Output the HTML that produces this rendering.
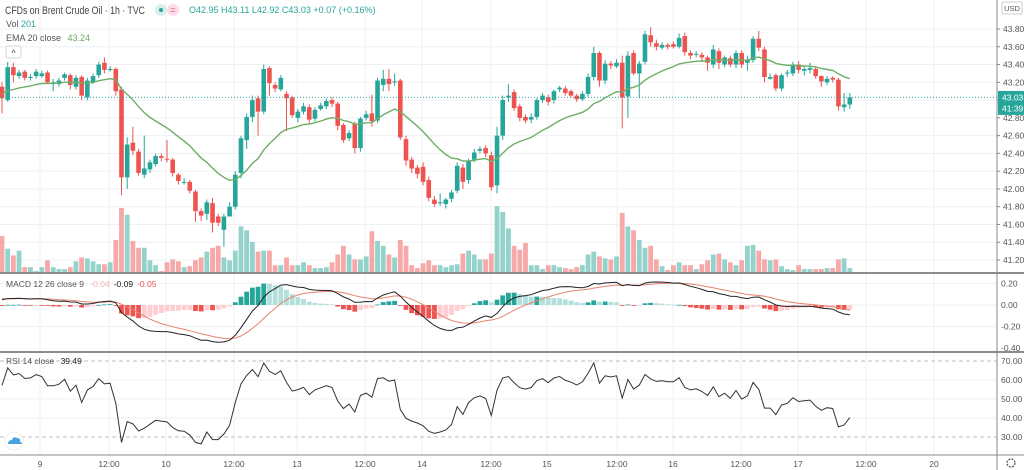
<!DOCTYPE html>
<html><head><meta charset="utf-8"><title>Brent Crude Oil 1h</title>
<style>
html,body{margin:0;padding:0;background:#fff;width:1024px;height:470px;overflow:hidden;font-family:"Liberation Sans",sans-serif}
svg{display:block}
text{font-family:"Liberation Sans",sans-serif}
</style></head>
<body>
<svg id="chart" width="1024" height="470" viewBox="0 0 1024 470" xmlns="http://www.w3.org/2000/svg">
  <rect x="0" y="0" width="1024" height="470" fill="#ffffff"/>
  <g id="grid"></g>
  <g id="vol"></g>
  <g id="candles"></g>
  <g id="ema"></g>
  <g id="macd"></g>
  <g id="rsi"></g>
  <g id="axes"></g>
  <g id="legend">
    <text x="5" y="14" font-size="11" fill="#444" textLength="140" lengthAdjust="spacingAndGlyphs">CFDs on Brent Crude Oil · 1h · TVC</text>
    <circle cx="161" cy="10" r="6" fill="#d8f0ec"/>
    <circle cx="161" cy="10" r="2" fill="#26a69a"/>
    <rect x="167" y="4" width="12" height="12" rx="6" fill="#fbdde6"/>
    <text x="173" y="13" font-size="9" fill="#e04070" text-anchor="middle">=</text>
    <text x="189" y="13" font-size="9" fill="#26a69a">O42.95  H43.11  L42.92  C43.03  +0.07 (+0.16%)</text>
    <text x="6" y="27" font-size="9" fill="#555">Vol <tspan fill="#26a69a">201</tspan></text>
    <text x="6" y="41" font-size="9" fill="#555">EMA 20 close <tspan fill="#6ca964" dx="4">43.24</tspan></text>
    <rect x="6" y="46" width="15" height="12" rx="2" fill="#fff" stroke="#d6d6d6"/>
    <text x="13.5" y="56" font-size="9" fill="#444" text-anchor="middle">^</text>
    <text x="6" y="287" font-size="8.5" fill="#555">MACD 12 26 close 9 <tspan fill="#f8b4bc" dx="4">-0.04</tspan><tspan fill="#222" dx="4">-0.09</tspan><tspan fill="#ef5350" dx="4">-0.05</tspan></text>
    <text x="6" y="364" font-size="8.5" fill="#555">RSI 14 close <tspan fill="#222" dx="4">39.49</tspan></text>
    <circle cx="14" cy="441" r="9" fill="#fff" stroke="#eee"/>
    <path d="M8 444 q0 -4 4 -4 q1 -4 5 -2 q4 0 3 4 q2 0 2 2 z" fill="#4aa3df"/>
  </g>
</svg>
<script>
const opens=[43.15,43.00,43.37,43.27,43.32,43.25,43.27,43.27,43.31,43.18,43.18,43.25,43.28,43.15,43.26,43.03,43.20,43.28,43.42,43.34,43.35,43.12,42.13,42.52,42.42,42.16,42.22,42.28,42.37,42.34,42.33,42.16,42.08,42.08,41.97,41.75,41.72,41.84,41.69,41.54,41.69,41.80,42.18,42.55,42.81,43.02,42.87,43.36,43.17,43.12,43.07,43.03,42.80,42.87,42.92,42.79,42.90,42.93,43.00,42.96,42.72,42.57,42.73,42.46,42.80,42.85,42.77,43.17,43.24,43.20,43.22,42.56,42.33,42.24,42.25,42.10,41.88,41.85,41.83,41.89,41.98,42.24,42.10,42.33,42.43,42.46,42.38,42.04,42.60,43.03,43.09,42.93,42.81,42.78,42.81,43.00,43.03,43.00,43.12,43.13,43.10,43.05,43.01,43.07,43.26,43.53,43.22,43.41,43.38,43.42,43.04,43.53,43.30,43.43,43.73,43.64,43.59,43.62,43.63,43.60,43.72,43.53,43.52,43.51,43.48,43.40,43.55,43.40,43.47,43.40,43.53,43.42,43.45,43.69,43.57,43.24,43.28,43.13,43.30,43.30,43.40,43.33,43.34,43.35,43.27,43.20,43.25,43.23,42.92,42.95];
const highs=[43.20,43.43,43.42,43.34,43.34,43.29,43.35,43.33,43.33,43.24,43.25,43.31,43.30,43.28,43.28,43.25,43.30,43.43,43.48,43.38,43.37,43.15,42.58,42.70,42.45,42.60,42.33,42.40,42.40,42.55,42.35,42.18,42.12,42.10,41.99,41.78,41.88,41.90,41.72,41.72,41.85,42.20,42.60,42.85,43.05,43.05,43.40,43.38,43.20,43.28,43.10,43.05,42.90,42.97,42.95,42.92,42.97,43.02,43.03,42.98,42.74,42.66,42.76,42.81,42.88,43.06,43.25,43.34,43.35,43.30,43.24,42.60,42.36,42.27,42.30,42.14,41.92,41.95,41.90,41.99,42.30,42.28,42.34,42.45,42.48,42.49,42.42,42.70,43.05,43.18,43.12,42.96,42.84,42.85,43.02,43.08,43.06,43.12,43.16,43.16,43.12,43.07,43.10,43.30,43.60,43.55,43.45,43.44,43.46,43.50,43.55,43.56,43.44,43.78,43.82,43.68,43.65,43.64,43.66,43.75,43.76,43.56,43.55,43.54,43.50,43.62,43.58,43.50,43.50,43.56,43.56,43.50,43.72,43.78,43.60,43.30,43.30,43.30,43.34,43.43,43.44,43.38,43.42,43.38,43.28,43.27,43.27,43.25,43.08,43.08];
const lows=[42.85,42.98,43.20,43.24,43.22,43.22,43.24,43.25,43.18,43.10,43.15,43.22,43.12,43.12,43.00,43.00,43.18,43.25,43.30,43.32,43.05,41.93,42.00,42.38,42.15,42.12,42.18,42.25,42.31,42.30,42.14,42.05,42.05,41.95,41.63,41.64,41.65,41.51,41.58,41.35,41.75,41.77,42.12,42.45,42.75,42.60,42.84,43.05,43.09,43.10,42.65,42.80,42.75,42.84,42.74,42.76,42.88,42.90,42.92,42.66,42.52,42.54,42.40,42.42,42.77,42.70,42.74,43.10,43.10,43.16,42.55,42.26,42.18,42.12,42.04,41.86,41.80,41.81,41.78,41.85,41.95,42.00,42.06,42.30,42.40,42.36,41.98,41.95,42.55,42.98,42.88,42.76,42.74,42.74,42.78,42.97,42.94,42.96,43.09,43.05,43.03,42.98,42.99,43.04,43.22,43.15,43.18,43.35,43.36,42.68,42.80,43.28,43.02,43.40,43.60,43.56,43.57,43.57,43.58,43.58,43.50,43.46,43.48,43.43,43.33,43.36,43.35,43.37,43.37,43.36,43.36,43.33,43.42,43.55,43.20,43.23,43.10,43.10,43.26,43.27,43.30,43.28,43.30,43.24,43.15,43.17,43.20,42.88,42.87,42.90];
const closes=[43.02,43.37,43.28,43.31,43.25,43.26,43.32,43.30,43.20,43.20,43.22,43.29,43.17,43.25,43.05,43.22,43.27,43.40,43.34,43.35,43.10,42.13,42.50,42.43,42.18,42.23,42.30,42.37,42.35,42.33,42.18,42.09,42.08,41.98,41.75,41.70,41.85,41.62,41.62,41.69,41.80,42.16,42.57,42.81,43.00,42.87,43.35,43.19,43.13,43.25,43.02,42.83,42.87,42.93,42.78,42.89,42.94,42.99,42.96,42.71,42.55,42.63,42.46,42.79,42.84,42.76,43.22,43.24,43.18,43.21,42.58,42.32,42.23,42.17,42.08,41.90,41.83,41.85,41.88,41.96,42.26,42.08,42.31,42.41,42.45,42.40,42.02,42.60,43.00,43.05,42.91,42.80,42.77,42.81,43.00,43.05,42.98,43.10,43.14,43.08,43.05,43.01,43.07,43.26,43.53,43.22,43.41,43.39,43.42,43.03,43.50,43.30,43.41,43.74,43.65,43.60,43.62,43.60,43.60,43.70,43.54,43.50,43.52,43.48,43.42,43.57,43.42,43.48,43.40,43.53,43.40,43.45,43.69,43.59,43.26,43.26,43.13,43.28,43.31,43.40,43.34,43.35,43.36,43.27,43.21,43.24,43.23,42.93,42.95,43.03];
const volumes=[37,24,17,22,5,5,1,5,12,5,3,3,5,11,15,14,11,8,8,10,33,66,59,32,25,25,12,7,1,10,13,11,5,6,12,15,21,25,27,15,12,22,47,43,31,21,22,22,7,7,15,7,7,10,7,4,4,5,10,18,27,18,13,13,16,42,32,27,18,15,33,27,7,4,9,12,7,7,5,7,8,19,22,18,13,13,19,68,62,45,27,23,30,7,7,3,7,7,5,4,3,5,7,18,21,16,14,13,16,61,47,43,33,25,27,13,6,2,7,10,7,7,3,8,12,18,19,13,10,7,12,27,28,22,13,12,13,6,3,2,7,3,3,3,3,4,4,13,14,4];
const priceTicks=["43.80","43.60","43.40","43.20","43.00","42.80","42.60","42.40","42.20","42.00","41.80","41.60","41.40","41.20"];
const macdTicks=["0.20","0.00","-0.20","-0.40"];
const rsiTicks=["70.00","60.00","50.00","40.00","30.00"];
const timeLabels=["9","12:00","10","12:00","13","12:00","14","12:00","15","12:00","16","12:00","17","12:00","20"];
const timeLabelPos=[40,109,166,234,297,365,422,491,547,617,673,741,798,866,934];

const NS='http://www.w3.org/2000/svg';
function mk(parent,tag,attrs,txt){const e=document.createElementNS(NS,tag);for(const k in attrs)e.setAttribute(k,attrs[k]);if(txt!==undefined)e.textContent=txt;parent.appendChild(e);return e;}
const $=id=>document.getElementById(id);
const X=i=>2+i*5.69;
const Y=p=>29+(43.8-p)*88.85;
const VY=v=>272-v*0.97;
const MY=v=>305-v*108;
const RY=v=>361+(70-v)*1.9;
const UP='#26a69a',DN='#ef5350';

const grid=$('grid');
timeLabelPos.forEach(x=>{const l=mk(grid,'line',{x1:x,x2:x,y1:0,y2:455,stroke:'#eef0f4','stroke-width':1});

});
priceTicks.forEach(t=>{const y=Y(parseFloat(t));const l=mk(grid,'line',{x1:0,x2:997,y1:y,y2:y,stroke:'#eef0f4','stroke-width':1});

});
macdTicks.slice(0,3).forEach(t=>{const y=MY(parseFloat(t));const l=mk(grid,'line',{x1:0,x2:997,y1:y,y2:y,stroke:'#eef0f4'});

});
rsiTicks.forEach(t=>{const v=parseFloat(t);const y=RY(v);const dashed=(v===70||v===30);
const l=mk(grid,'line',{x1:0,x2:997,y1:y,y2:y,stroke:dashed?'#b8bcc4':'#eef0f4','stroke-dasharray':dashed?'4,3':'none'});

});

const vol=$('vol');
volumes.forEach((v,i)=>{const up=closes[i]>=opens[i];const y=VY(v);
const r=mk(vol,'rect',{x:X(i)-2.4,y:y,width:4.8,height:272-y,fill:up?'#93d3cc':'#f6a9a8'});

});

const cg=$('candles');
opens.forEach((o,i)=>{const c=closes[i];const up=c>=o;const col=up?UP:DN;const x=X(i);
const w=mk(cg,'line',{x1:x,x2:x,y1:Y(highs[i]),y2:Y(lows[i]),stroke:col,'stroke-width':1});


const top=Y(Math.max(o,c)),bot=Y(Math.min(o,c));
const b=mk(cg,'rect',{x:x-2.3,y:top,width:4.6,height:Math.max(1,bot-top),fill:col});

});

let e=43.08;const emaPts=[];
closes.forEach((c,i)=>{e=e+(2/21)*(c-e);emaPts.push(X(i).toFixed(1)+','+Y(e).toFixed(1));});
const emaL=mk($('ema'),'polyline',{points:emaPts.join(' '),fill:'none',stroke:'#6fae66','stroke-width':1.4});



const cp=closes[closes.length-1];
const pl=mk($('axes'),'line',{x1:0,x2:997,y1:Y(cp),y2:Y(cp),stroke:'#26a69a','stroke-dasharray':'1,2','stroke-width':1});



const mg=$('macd');
let e12=43.22,e26=43.15,sig=0.06;const mPts=[],sPts=[],hist=[];
closes.forEach((c,i)=>{e12+= (2/13)*(c-e12);e26+=(2/27)*(c-e26);const m=e12-e26;sig+=(2/10)*(m-sig);
mPts.push(X(i).toFixed(1)+','+MY(m).toFixed(1));sPts.push(X(i).toFixed(1)+','+MY(sig).toFixed(1));hist.push(m-sig);});
hist.forEach((h,i)=>{const prev=i?hist[i-1]:0;let col;
if(h>=0)col=h>=prev?'#26a69a':'#b2dfdb';else col=h<prev?'#ef5350':'#ffcdd2';
const y0=MY(0),y1=MY(h);
const r=mk(mg,'rect',{x:X(i)-2.4,y:Math.min(y0,y1),width:4.8,height:Math.max(0.8,Math.abs(y1-y0)),fill:col});

});
const sl=mk(mg,'polyline',{points:sPts.join(' '),fill:'none',stroke:'#e8826e','stroke-width':1});


const ml=mk(mg,'polyline',{points:mPts.join(' '),fill:'none',stroke:'#222','stroke-width':1});



let ag=0.06,al=0.045;const rPts=[];
closes.forEach((c,i)=>{const d=i?c-closes[i-1]:0;ag=(ag*13+Math.max(d,0))/14;al=(al*13+Math.max(-d,0))/14;
const r=100-100/(1+ag/(al||1e-9));rPts.push(X(i).toFixed(1)+','+RY(r).toFixed(1));});
const rl=mk($('rsi'),'polyline',{points:rPts.join(' '),fill:'none',stroke:'#333','stroke-width':1});



const ax=$('axes');
const sep=[[273,'#666',1.5],[352,'#666',1.5],[455,'#888',1]];
sep.forEach(s=>{const l=mk(ax,'line',{x1:0,x2:1024,y1:s[0],y2:s[0],stroke:s[1],'stroke-width':s[2]});

});
const va=mk(ax,'line',{x1:997,x2:997,y1:0,y2:470,stroke:'#888','stroke-width':1});


priceTicks.forEach(t=>{const y=Y(parseFloat(t));
const tk=mk(ax,'line',{x1:997,x2:1000,y1:y,y2:y,stroke:'#888'});


const tx=mk(ax,'text',{x:1003,y:y+3,'font-size':8.5,fill:'#555'},t);

});
macdTicks.forEach(t=>{const y=MY(parseFloat(t));
const tx=mk(ax,'text',{x:1001,y:y+3,'font-size':8.5,fill:'#555'},t);

});
rsiTicks.forEach(t=>{const y=RY(parseFloat(t));
const tx=mk(ax,'text',{x:1001,y:y+3,'font-size':8.5,fill:'#555'},t);

});
timeLabels.forEach((t,i)=>{const tx=mk(ax,'text',{x:timeLabelPos[i],y:467,'font-size':8.5,fill:'#555','text-anchor':'middle'},t);

});
const py=Y(cp);
const bg=mk(ax,'rect',{x:998,y:py-6.5,width:26,height:24,fill:'#26a69a'});


const bt=mk(ax,'text',{x:1002,y:py+3,'font-size':8.5,fill:'#fff'},cp.toFixed(2));


const ct=mk(ax,'text',{x:1002,y:py+14,'font-size':8.5,fill:'#fff'},'41:39');


const ub=mk(ax,'rect',{x:1002,y:2,width:20,height:12,fill:'#fff',stroke:'#ccc',rx:1});


const ut=mk(ax,'text',{x:1012,y:11,'font-size':7.5,fill:'#555','text-anchor':'middle'},'USD');


const gc=mk(ax,'circle',{cx:1011,cy:463,r:4,fill:'none',stroke:'#555','stroke-width':1.3,'stroke-dasharray':'2,1.2'});


</script>
</body></html>
